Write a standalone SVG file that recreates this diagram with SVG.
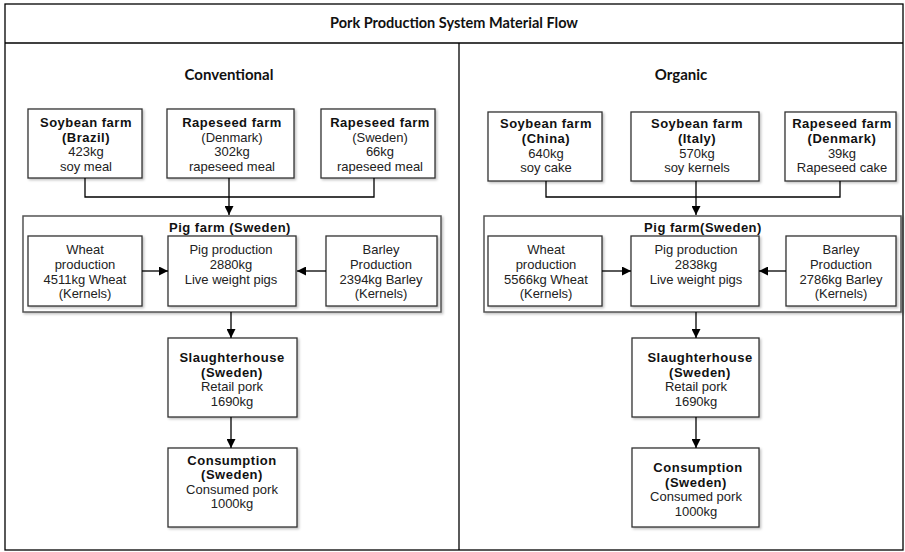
<svg xmlns="http://www.w3.org/2000/svg" width="905" height="552" viewBox="0 0 905 552">
<defs>
<marker id="arr" viewBox="0 0 10 10" refX="10" refY="5" markerWidth="9" markerHeight="9" markerUnits="userSpaceOnUse" orient="auto">
<path d="M0,0 L10,5 L0,10 z" fill="#000"/>
</marker>
<filter id="sh" x="-10%" y="-10%" width="125%" height="125%">
<feDropShadow dx="1.5" dy="1.5" stdDeviation="1" flood-color="#000" flood-opacity="0.25"/>
</filter>
</defs>
<style>
.frame{fill:none;stroke:#000;stroke-width:1.3}
.box{fill:#fff;stroke:#333;stroke-width:1.3;filter:url(#sh)}
.cont{fill:#fff;stroke:#555;stroke-width:1.5;filter:url(#sh)}
.t{font-family:"Liberation Sans",Arial,sans-serif;font-size:13px;fill:#222;text-anchor:middle}
.b{font-weight:bold;fill:#111;letter-spacing:0.5px}
.h{font-family:Lato,"Open Sans",sans-serif;font-size:15px;font-weight:bold;fill:#111;text-anchor:middle}
.ti{font-size:14.5px}
.c{fill:none;stroke:#000;stroke-width:1.3}
</style>
<rect width="905" height="552" fill="#fff"/>
<g id="frame">
<rect class="frame" x="5" y="4" width="898" height="546"/>
<line class="frame" x1="5" y1="43" x2="903" y2="43"/>
<line class="frame" x1="459" y1="43" x2="459" y2="550"/>
<text class="h ti" x="454" y="28">Pork Production System Material Flow</text>
<text class="h" x="229" y="80">Conventional</text>
<text class="h" x="681" y="80">Organic</text>
</g>
<!-- Conventional -->
<g id="c-soy-brazil">
<rect class="box" x="28" y="109" width="114" height="69"/>
<text class="t b" x="86" y="127">Soybean farm</text>
<text class="t b" x="86" y="141.7">(Brazil)</text>
<text class="t" x="86" y="156.4">423kg</text>
<text class="t" x="86" y="171">soy meal</text>
</g>
<g id="c-rape-denmark">
<rect class="box" x="167" y="109" width="127" height="69"/>
<text class="t b" x="232" y="127">Rapeseed farm</text>
<text class="t" x="232" y="141.7">(Denmark)</text>
<text class="t" x="232" y="156.4">302kg</text>
<text class="t" x="232" y="171">rapeseed meal</text>
</g>
<g id="c-rape-sweden">
<rect class="box" x="321" y="109" width="114" height="69"/>
<text class="t b" x="380" y="127">Rapeseed farm</text>
<text class="t" x="380" y="141.7">(Sweden)</text>
<text class="t" x="380" y="156.4">66kg</text>
<text class="t" x="380" y="171">rapeseed meal</text>
</g>
<g id="c-pigfarm">
<rect class="cont" x="23" y="216" width="418" height="96"/>
<text class="t b" x="230" y="231.5">Pig farm (Sweden)</text>
</g>
<g id="c-wheat">
<rect class="box" x="28" y="236" width="114" height="70"/>
<text class="t" x="85" y="253.5">Wheat</text>
<text class="t" x="85" y="268.5">production</text>
<text class="t" x="85" y="283.5">4511kg Wheat</text>
<text class="t" x="85" y="297.5">(Kernels)</text>
</g>
<g id="c-pig">
<rect class="box" x="168" y="236" width="128" height="70"/>
<text class="t" x="231" y="253.5">Pig production</text>
<text class="t" x="231" y="268.5">2880kg</text>
<text class="t" x="231" y="283.5">Live weight pigs</text>
</g>
<g id="c-barley">
<rect class="box" x="326" y="236" width="111" height="70"/>
<text class="t" x="381" y="253.5">Barley</text>
<text class="t" x="381" y="268.5">Production</text>
<text class="t" x="381" y="283.5">2394kg Barley</text>
<text class="t" x="381" y="297.5">(Kernels)</text>
</g>
<g id="c-slaughter">
<rect class="box" x="168" y="338" width="129" height="79"/>
<text class="t b" x="232" y="361.5">Slaughterhouse</text>
<text class="t b" x="232" y="376.5">(Sweden)</text>
<text class="t" x="232" y="390.5">Retail pork</text>
<text class="t" x="232" y="405.5">1690kg</text>
</g>
<g id="c-consumption">
<rect class="box" x="168" y="448" width="129" height="79"/>
<text class="t b" x="232" y="464.5">Consumption</text>
<text class="t b" x="232" y="479">(Sweden)</text>
<text class="t" x="232" y="493.5">Consumed pork</text>
<text class="t" x="232" y="507.5">1000kg</text>
</g>
<!-- Organic -->
<g id="o-soy-china">
<rect class="box" x="488" y="112" width="114" height="69"/>
<text class="t b" x="546" y="128">Soybean farm</text>
<text class="t b" x="546" y="143">(China)</text>
<text class="t" x="546" y="157.5">640kg</text>
<text class="t" x="546" y="172">soy cake</text>
</g>
<g id="o-soy-italy">
<rect class="box" x="631" y="112" width="128" height="69"/>
<text class="t b" x="697" y="128">Soybean farm</text>
<text class="t b" x="697" y="143">(Italy)</text>
<text class="t" x="697" y="157.5">570kg</text>
<text class="t" x="697" y="172">soy kernels</text>
</g>
<g id="o-rape-denmark">
<rect class="box" x="785" y="112" width="111" height="69"/>
<text class="t b" x="842" y="128">Rapeseed farm</text>
<text class="t b" x="842" y="143">(Denmark)</text>
<text class="t" x="842" y="157.5">39kg</text>
<text class="t" x="842" y="172">Rapeseed cake</text>
</g>
<g id="o-pigfarm">
<rect class="cont" x="484" y="216" width="417" height="96"/>
<text class="t b" x="703" y="231.5">Pig farm(Sweden)</text>
</g>
<g id="o-wheat">
<rect class="box" x="488" y="236" width="114" height="70"/>
<text class="t" x="546" y="253.5">Wheat</text>
<text class="t" x="546" y="268.5">production</text>
<text class="t" x="546" y="283.5">5566kg Wheat</text>
<text class="t" x="546" y="297.5">(Kernels)</text>
</g>
<g id="o-pig">
<rect class="box" x="631" y="236" width="128" height="70"/>
<text class="t" x="696" y="253.5">Pig production</text>
<text class="t" x="696" y="268.5">2838kg</text>
<text class="t" x="696" y="283.5">Live weight pigs</text>
</g>
<g id="o-barley">
<rect class="box" x="786" y="236" width="110" height="70"/>
<text class="t" x="841" y="253.5">Barley</text>
<text class="t" x="841" y="268.5">Production</text>
<text class="t" x="841" y="283.5">2786kg Barley</text>
<text class="t" x="841" y="297.5">(Kernels)</text>
</g>
<g id="o-slaughter">
<rect class="box" x="632" y="338" width="127" height="79"/>
<text class="t b" x="700" y="361.5">Slaughterhouse</text>
<text class="t b" x="700" y="376.5">(Sweden)</text>
<text class="t" x="696" y="390.5">Retail pork</text>
<text class="t" x="696" y="405.5">1690kg</text>
</g>
<g id="o-consumption">
<rect class="box" x="632" y="448" width="127" height="79"/>
<text class="t b" x="698" y="471.5">Consumption</text>
<text class="t b" x="696" y="487">(Sweden)</text>
<text class="t" x="696" y="500.5">Consumed pork</text>
<text class="t" x="696" y="516">1000kg</text>
</g>
<g id="connectors">
<path class="c" d="M85,178 V197 H374 V178"/>
<path class="c" d="M229,178 V215" marker-end="url(#arr)"/>
<path class="c" d="M142,271 H168" marker-end="url(#arr)"/>
<path class="c" d="M326,271 H297" marker-end="url(#arr)"/>
<path class="c" d="M231,312 V338" marker-end="url(#arr)"/>
<path class="c" d="M231,417 V448" marker-end="url(#arr)"/>
<path class="c" d="M546,181 V197 H840 V181"/>
<path class="c" d="M696,181 V215" marker-end="url(#arr)"/>
<path class="c" d="M602,271 H631" marker-end="url(#arr)"/>
<path class="c" d="M786,271 H759" marker-end="url(#arr)"/>
<path class="c" d="M696,312 V338" marker-end="url(#arr)"/>
<path class="c" d="M696,417 V448" marker-end="url(#arr)"/>
</g>
</svg>
